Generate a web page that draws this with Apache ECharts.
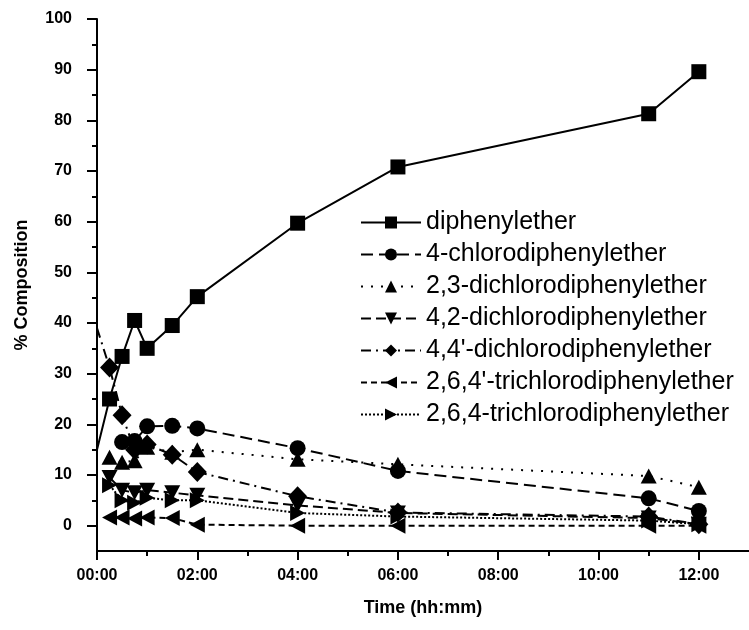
<!DOCTYPE html>
<html><head><meta charset="utf-8">
<script src="https://cdn.jsdelivr.net/npm/echarts@6/dist/echarts.min.js"></script>
<style>html,body{margin:0;padding:0;background:#fff}#c{width:749px;height:630px}</style>
</head><body><div id="c"></div>
<script>
// time of each sample, in hours
const timesH = [0.25, 0.5, 0.75, 1, 1.5, 2, 4, 6, 11, 12];
const xTickLabels = [0, 2, 4, 6, 8, 10, 12];
const xMinorTicks = [1, 3, 5, 7, 9, 11];
const yTickLabels = [0, 10, 20, 30, 40, 50, 60, 70, 80, 90, 100];
const yMinorTicks = [5, 15, 25, 35, 45, 55, 65, 75, 85, 95];

const seriesNames = [
  'diphenylether',
  '4-chlorodiphenylether',
  '2,3-dichlorodiphenylether',
  '4,2-dichlorodiphenylether',
  "4,4'-dichlorodiphenylether",
  "2,6,4'-trichlorodiphenylether",
  '2,6,4-trichlorodiphenylether'
];
// values at t = 0 (line start only, no marker drawn in the original)
const diphenyletherT0 = 15;
const dichloro44T0 = 39;

const diphenylether   = [25.0, 33.4, 40.5, 35.0, 39.5, 45.2, 59.7, 70.8, 81.3, 89.6];
const chloro4         = [null, 16.5, 16.7, 19.6, 19.7, 19.2, 15.3, 10.8, 5.4, 2.9];
const dichloro23      = [13.5, 12.5, 12.8, 15.5, 14.5, 15.0, 13.1, 12.1, 9.8, 7.6];
const dichloro42      = [9.5, 7.0, 6.5, 7.0, 6.5, 6.0, 4.0, 2.5, 1.5, 0.3];
const dichloro44      = [31.2, 21.8, 15.0, 16.0, 14.0, 10.6, 5.8, 2.6, 1.8, 0.3];
const trichloro264p   = [1.6, 1.6, 1.4, 1.6, 1.5, 0.2, 0.0, 0.0, 0.0, 0.0];
const trichloro264    = [8.0, 5.0, 4.5, 5.5, 5.0, 5.0, 2.5, 1.8, 1.0, 0.3];

const FONT = "'Liberation Sans', Arial, sans-serif";

function pts(vals, t0) {
  const d = [];
  if (t0 !== undefined) d.push({ value: [0, t0], symbol: 'none' });
  timesH.forEach((t, i) => { if (vals[i] !== null) d.push([t, vals[i]]); });
  return d;
}

const styles = [
  { sym: 'rect', size: 15, dash: 'solid', data: pts(diphenylether, diphenyletherT0) },
  { sym: 'circle', size: 16, dash: [12, 6], data: pts(chloro4) },
  { sym: 'path://M5,0 L10,10 L0,10 Z', size: [16, 15], dash: [2, 8], data: pts(dichloro23) },
  { sym: 'path://M0,0 L10,0 L5,10 Z', size: [16, 15], dash: [10, 5], data: pts(dichloro42) },
  { sym: 'diamond', size: [19, 20], dash: [10, 5, 2, 5], data: pts(dichloro44, dichloro44T0) },
  { sym: 'path://M10,0 L10,10 L0,5 Z', size: [15, 16], dash: [6, 4], data: pts(trichloro264p) },
  { sym: 'path://M0,0 L10,5 L0,10 Z', size: [15, 16], dash: [2, 2], data: pts(trichloro264) }
];

const series = styles.map((s, i) => ({
  name: seriesNames[i],
  type: 'line',
  xAxisIndex: 0, yAxisIndex: 0,
  data: s.data,
  symbol: s.sym,
  symbolSize: s.size,
  showAllSymbol: true,
  itemStyle: { color: '#000' },
  lineStyle: { color: '#000', width: 2, type: s.dash },
  z: 10 - i,
  animation: false
}));

const pad = n => (n < 10 ? '0' : '') + n;

const option = {
  animation: false,
  backgroundColor: '#fff',
  grid: { left: 97, right: 0, top: 19, bottom: 79 },
  xAxis: [{
    type: 'value', min: 0, max: 13,
    name: 'Time (hh:mm)', nameLocation: 'middle', nameGap: 48,
    nameTextStyle: { fontFamily: FONT, fontWeight: 'bold', fontSize: 18, color: '#000' },
    axisLine: { onZero: false, lineStyle: { color: '#000', width: 2 } },
    axisTick: { length: 9, lineStyle: { color: '#000', width: 2 }, customValues: xTickLabels },
    axisLabel: { customValues: xTickLabels, formatter: v => pad(v) + ':00', margin: 17,
      fontFamily: FONT, fontWeight: 'bold', fontSize: 16, color: '#000' },
    splitLine: { show: false }
  }, {
    type: 'value', min: 0, max: 13, position: 'bottom',
    axisLine: { show: false, onZero: false },
    axisTick: { length: 5, lineStyle: { color: '#000', width: 2 }, customValues: xMinorTicks },
    axisLabel: { show: false },
    splitLine: { show: false }
  }],
  yAxis: [{
    type: 'value', min: -5, max: 100,
    name: '% Composition', nameLocation: 'middle', nameGap: 66,
    nameTextStyle: { fontFamily: FONT, fontWeight: 'bold', fontSize: 18, color: '#000' },
    axisLine: { onZero: false, lineStyle: { color: '#000', width: 2 } },
    axisTick: { length: 10, lineStyle: { color: '#000', width: 2 }, customValues: yTickLabels },
    axisLabel: { customValues: yTickLabels, margin: 25,
      fontFamily: FONT, fontWeight: 'bold', fontSize: 16, color: '#000' },
    splitLine: { show: false }
  }, {
    type: 'value', min: -5, max: 100, position: 'left',
    axisLine: { show: false, onZero: false },
    axisTick: { length: 5, lineStyle: { color: '#000', width: 2 }, customValues: yMinorTicks },
    axisLabel: { show: false },
    splitLine: { show: false }
  }],
  legend: {
    orient: 'vertical', left: 355, top: 205,
    itemWidth: 60, itemHeight: 15, itemGap: 7,
    data: seriesNames,
    textStyle: { fontFamily: FONT, fontSize: 25, lineHeight: 25, color: '#000' }
  },
  series
};

const chart = echarts.init(document.getElementById('c'), null, { renderer: 'canvas' });
chart.setOption(option);
</script>
</body></html>
